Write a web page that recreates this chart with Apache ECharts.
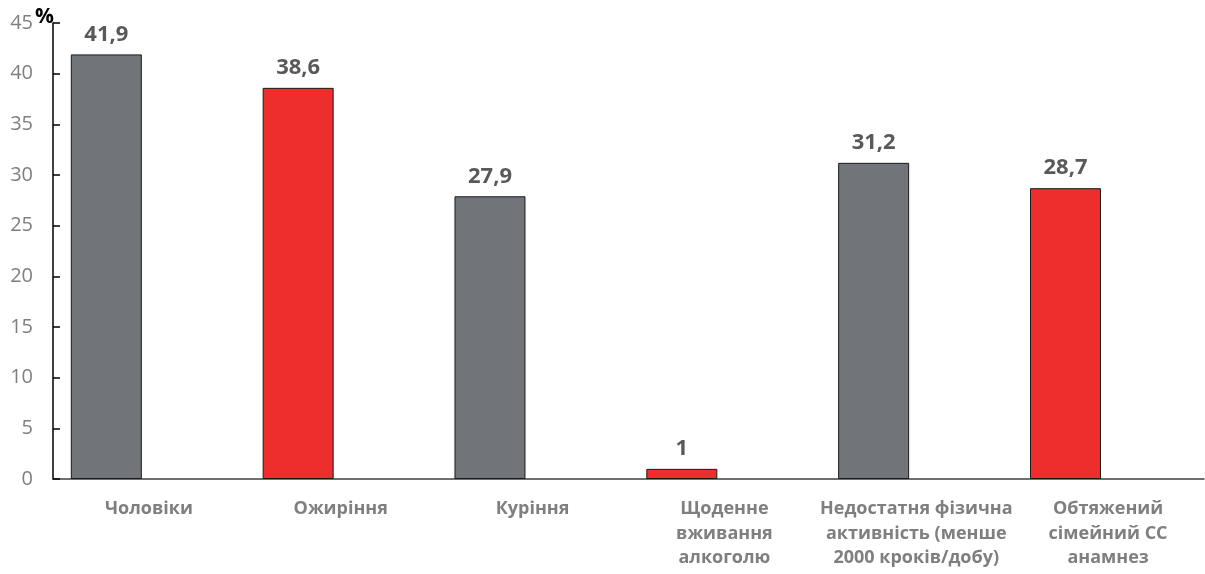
<!DOCTYPE html>
<html>
<head>
<meta charset="utf-8">
<script src="https://cdn.jsdelivr.net/npm/echarts@6/dist/echarts.min.js"></script>
<style>
  html, body { margin: 0; padding: 0; background: #fff; }
  #chart { width: 1205px; height: 574px; }
</style>
</head>
<body>
<div id="chart"></div>
<script>
// Risk factor categories (x axis)
const categories = [
  'Чоловіки',
  'Ожиріння',
  'Куріння',
  'Щоденне\nвживання\nалкоголю',
  'Недостатня фізична\nактивність (менше\n2000 кроків/добу)',
  'Обтяжений\nсімейний СС\nанамнез'
];
// Share of patients, %, split by bar colour
const greyValues = [41.9, '-', 27.9, '-', 31.2, '-'];
const redValues = ['-', 38.6, '-', 1, '-', 28.7];
// Empty companion series: reserves the right-hand slot in each category
const spacerValues = ['-', '-', '-', '-', '-', '-'];
// Y axis range
const yMin = 0, yMax = 45, yStep = 5;

const fontFamily = '"Open Sans", "Noto Sans", sans-serif';
const fmt = p => String(p.value).replace('.', ',');

const labelStyle = {
  show: true,
  position: 'top',
  distance: 9,
  formatter: fmt,
  color: '#595959',
  fontWeight: 'bold',
  fontSize: 22,
  fontFamily
};

const chart = echarts.init(document.getElementById('chart'), null, { renderer: 'canvas' });
chart.setOption({
  animation: false,
  backgroundColor: '#ffffff',
  grid: { left: 53, right: 1, top: 23, bottom: 95, containLabel: false, outerBoundsMode: 'none' },
  xAxis: {
    type: 'category',
    data: categories,
    axisLine: { lineStyle: { color: '#404040', width: 1.5 } },
    axisTick: { show: false },
    axisLabel: {
      interval: 0,
      margin: 18,
      color: '#7f7f7f',
      fontWeight: 'bold',
      fontSize: 18,
      lineHeight: 24.5,
      fontFamily
    }
  },
  yAxis: {
    type: 'value',
    min: yMin,
    max: yMax,
    interval: yStep,
    name: '%',
    nameLocation: 'end',
    nameGap: 6,
    nameMoveOverlap: false,
    nameTextStyle: {
      color: '#000',
      fontWeight: 'bold',
      fontSize: 21,
      fontFamily,
      align: 'right',
      verticalAlign: 'middle',
      padding: [0, -1, 0, 0]
    },
    axisLine: { show: true, lineStyle: { color: '#000', width: 1.5 } },
    axisTick: { show: true, inside: true, length: 7, lineStyle: { color: '#000', width: 1.5 } },
    splitLine: { show: false },
    axisLabel: {
      margin: 20,
      color: '#7f7f7f',
      fontSize: 20,
      fontFamily
    }
  },
  series: [
    {
      name: 'grey',
      type: 'bar',
      stack: 'main',
      data: greyValues,
      barWidth: 71,
      barGap: '20%',
      itemStyle: { color: '#717579', borderColor: '#1a1a1a', borderWidth: 1 },
      label: labelStyle
    },
    {
      name: 'red',
      type: 'bar',
      stack: 'main',
      data: redValues,
      barWidth: 71,
      itemStyle: { color: '#ee2d2d', borderColor: '#1a1a1a', borderWidth: 1 },
      label: labelStyle
    },
    {
      name: 'spacer',
      type: 'bar',
      data: spacerValues,
      barWidth: 71,
      silent: true
    }
  ]
});
</script>
</body>
</html>
